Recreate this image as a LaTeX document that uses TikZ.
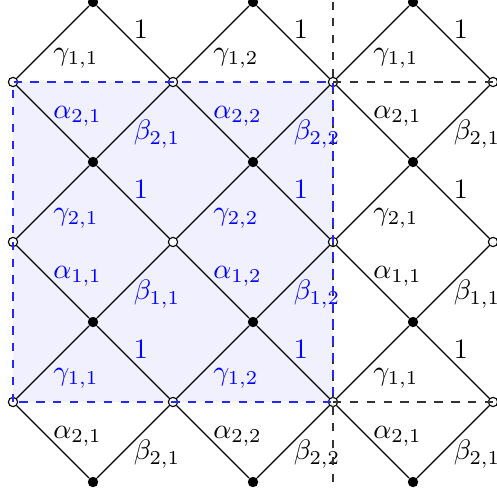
\documentclass[tikz,border=0pt]{standalone}
\usepackage{amsmath,amssymb}
\usepackage{tikz}

\colorlet{lab0}{black}
\colorlet{lab1}{blue}
\tikzset{
    opendot/.style={circle, draw, fill=white, inner sep=0pt, minimum size=3.3pt},
    fulldot/.style={circle, fill=black, inner sep=0pt, minimum size=3.7pt},
    uplab/.style={anchor=base west, inner sep=0pt, yshift=-0.225cm},
    downlab/.style={anchor=base west, inner sep=0pt, yshift=0.04cm},
}

\begin{document}
\begin{tikzpicture}
    \useasboundingbox (-0.1625,-1.1875) rectangle (6.0375,5.025);

    % Shaded cell
    \fill[blue!6] (0,0) rectangle (4,4);

    % Vertices
    \foreach \x in {1,3,5}
        \foreach \y in {-1,1,3,5}
            \node[fulldot] (f-\x-\y) at (\x,\y) {};
    \foreach \x in {0,2,4,6}
        \foreach \y in {0,2,4}
            \node[opendot] (o-\x-\y) at (\x,\y) {};

    % Edges and weights
    \foreach \x/\cj in {0/1,2/2,4/1}
        \foreach \y/\ri/\rk in {0/1/2,2/2/1,4/1/2} {
            \pgfmathtruncatemacro\xa{\x+1}
            \pgfmathtruncatemacro\xb{\x+2}
            \pgfmathtruncatemacro\yup{\y+1}
            \pgfmathtruncatemacro\ydn{\y-1}
            \pgfmathtruncatemacro\inu{and(\x<4,\y<4)}
            \pgfmathtruncatemacro\ind{and(\x<4,\y>0)}
            \draw (o-\x-\y) -- (f-\xa-\yup)
                node[midway, uplab, text=lab\inu] {$\gamma_{\ri,\cj}$};
            \draw (o-\x-\y) -- (f-\xa-\ydn)
                node[midway, downlab, text=lab\ind] {$\alpha_{\rk,\cj}$};
            \draw (f-\xa-\ydn) -- (o-\xb-\y)
                node[midway, uplab, text=lab\ind] {$\beta_{\rk,\cj}$};
            \draw (f-\xa-\yup) -- (o-\xb-\y)
                node[midway, downlab, text=lab\inu] {$1$};
        }

    % Cell boundaries
    \draw[dashed, black!80] (4,-1) -- (4,5);
    \draw[dashed, black!80] (o-4-4.center) -- (o-6-4.center);
    \draw[dashed, black!80] (o-4-0.center) -- (o-6-0.center);
    \draw[blue!85, dashed] (o-0-0.center) rectangle (o-4-4.center);
\end{tikzpicture}
\end{document}
